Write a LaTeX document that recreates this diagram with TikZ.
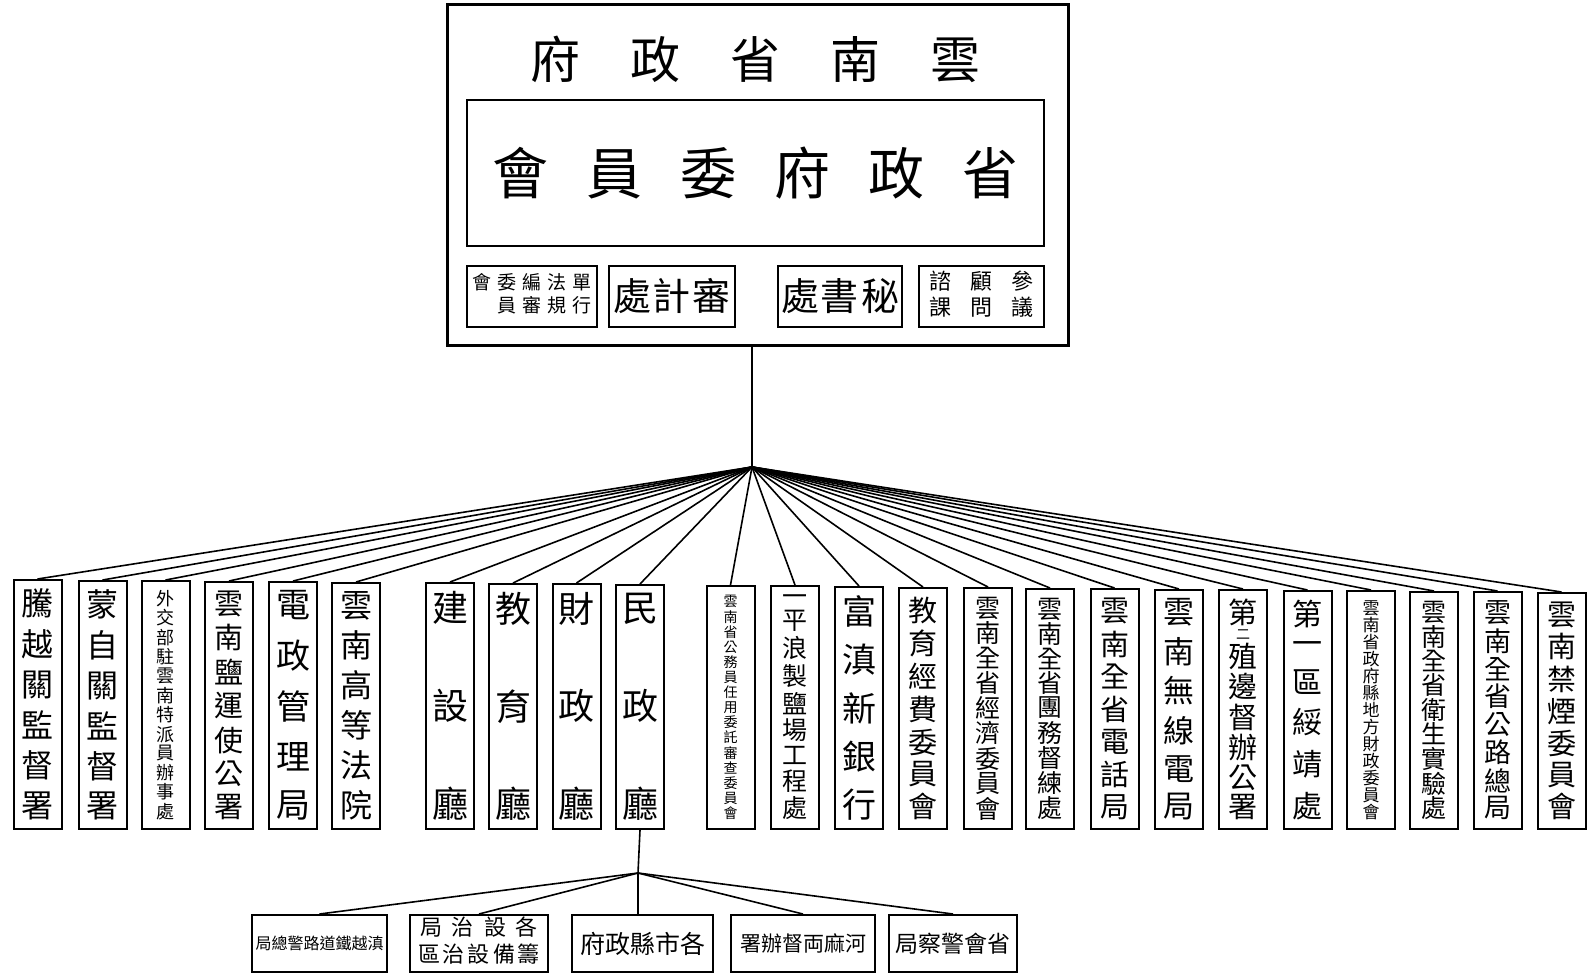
\documentclass[tikz,border=0pt]{standalone}
\usepackage{fontspec}
\setmainfont{Noto Sans CJK TC}
\makeatletter
\newcommand\vstack[2]{\vbox to #1{\offinterlineskip\let\vsep\relax
  \@tfor\vch:=#2\do{\vsep\hbox to 1.1em{\hss\vch\hss}\let\vsep\vfill}}}
\makeatother
\newlength\vh
\newcommand\vnode[5]{%
  \pgfmathsetlength\vh{828-#3-20}%
  \node[vb, minimum height={(828-#3)*1pt}] (#1) at (#2,#3) {\fontsize{#4}{#4}\selectfont\vstack{\vh}{#5}};}
\tikzset{
  vb/.style={draw, line width=2pt, inner sep=0pt, minimum width=48pt, anchor=north},
  sbox/.style={draw, line width=2pt, inner sep=0pt, minimum height=61pt},
  bbox/.style={draw, line width=2pt, inner sep=0pt, minimum height=57pt},
  conn/.style={line width=1.6pt},
  txt/.style={inner sep=0pt}
}
\begin{document}
\begin{tikzpicture}[x=1pt,y=-1pt]
\useasboundingbox (0,0) rectangle (1592,978);
\fill[white] (0,0) rectangle (1592,978);
% top block
\node[draw, line width=3pt, minimum width=621pt, minimum height=341pt, inner sep=0pt] (gov) at (757.5,175) {};
\node[txt] (title) at (755,59) {\fontsize{50}{50}\selectfont 府\hskip50pt 政\hskip50pt 省\hskip50pt 南\hskip50pt 雲};
\node[draw, line width=2.5pt, minimum width=577pt, minimum height=146pt, inner sep=0pt] (cmte) at (755.5,173) {\fontsize{56}{56}\selectfont 會\hskip38pt 員\hskip38pt 委\hskip38pt 府\hskip38pt 政\hskip38pt 省};
\node[sbox, minimum width=130pt] (sb1) at (532,296.5) {\fontsize{19}{23}\selectfont\begin{tabular}{@{}c@{\hskip6pt}c@{\hskip6pt}c@{\hskip6pt}c@{\hskip6pt}c@{}}會&委&編&法&單\\ &員&審&規&行\end{tabular}};
\node[sbox, minimum width=126pt] (sb2) at (672,296.5) {\fontsize{38}{38}\selectfont 處\hskip2pt 計\hskip2pt 審};
\node[sbox, minimum width=124pt] (sb3) at (840,296.5) {\fontsize{38}{38}\selectfont 處\hskip2pt 書\hskip2pt 秘};
\node[sbox, minimum width=125pt] (sb4) at (981.5,296.5) {\fontsize{22}{25}\selectfont\begin{tabular}{@{}c@{\hskip19pt}c@{\hskip19pt}c@{}}諮&顧&參\\課&問&議\end{tabular}};
% vertical boxes
\vnode{v1}{37.5}{579}{32}{騰越關監督署}
\vnode{v2}{102.5}{580}{32}{蒙自關監督署}
\vnode{v3}{165.5}{580}{18}{外交部駐雲南特派員辦事處}
\vnode{v4}{229}{581}{29}{雲南鹽運使公署}
\vnode{v5}{293}{581}{34}{電政管理局}
\vnode{v6}{356}{582}{32}{雲南高等法院}
\vnode{v7}{450}{582}{36}{建設廳}
\vnode{v8}{513}{583}{36}{教育廳}
\vnode{v9}{576.5}{583}{36}{財政廳}
\vnode{v10}{640}{584}{36}{民政廳}
\vnode{v11}{730.5}{585}{14}{雲南省公務員任用委託審查委員會}
\vnode{v12}{795}{585}{25}{一平浪製鹽場工程處}
\vnode{v13}{859}{586}{34}{富滇新銀行}
\vnode{v14}{923}{587}{29}{教育經費委員會}
\vnode{v15}{988}{587}{25}{雲南全省經濟委員會}
\vnode{v16}{1050}{588}{25}{雲南全省團務督練處}
\vnode{v17}{1114.5}{588}{29}{雲南全省電話局}
\vnode{v18}{1179}{589}{31}{雲南無線電局}
\vnode{v19}{1243}{589}{29}{第{\fontsize{14}{14}\selectfont 二}殖邊督辦公署}
\vnode{v20}{1307.5}{590}{30}{第一區綏靖處}
\vnode{v21}{1371}{590}{17}{雲南省政府縣地方財政委員會}
\vnode{v22}{1434}{591}{25}{雲南全省衛生實驗處}
\vnode{v23}{1497.5}{591}{27}{雲南全省公路總局}
\vnode{v24}{1561.5}{592}{29}{雲南禁煙委員會}
% bottom boxes
\node[bbox, minimum width=135pt] (b1) at (319.5,943.5) {\fontsize{16}{16}\selectfont 局總警路道鐵越滇};
\node[bbox, minimum width=138pt] (b2) at (479,943.5) {\fontsize{22}{25}\selectfont\begin{tabular}{@{}c@{}}\makebox[118pt]{局\hfill 治\hfill 設\hfill 各}\\ \makebox[122pt]{區\hfill 治\hfill 設\hfill 備\hfill 籌}\end{tabular}};
\node[bbox, minimum width=141pt] (b3) at (642.5,943.5) {\fontsize{25}{25}\selectfont 府政縣市各};
\node[bbox, minimum width=144pt] (b4) at (803,943.5) {\fontsize{21}{21}\selectfont 署辦督両麻河};
\node[bbox, minimum width=128pt] (b5) at (953,943.5) {\fontsize{23}{23}\selectfont 局察警會省};
% connectors
\coordinate (hub) at (752,467);
\coordinate (hub2) at (638,873);
\draw[conn, line width=2.5pt] (gov.south -| hub) -- (hub);
\foreach \i in {1,...,24} { \draw[conn] (hub) -- (v\i.north); }
\draw[conn] (v10.south) -- (hub2);
\foreach \j in {1,2,4,5} { \draw[conn] (hub2) -- (b\j.north); }
\draw[conn] (hub2) -- (b3.north -| hub2);
\end{tikzpicture}
\end{document}
